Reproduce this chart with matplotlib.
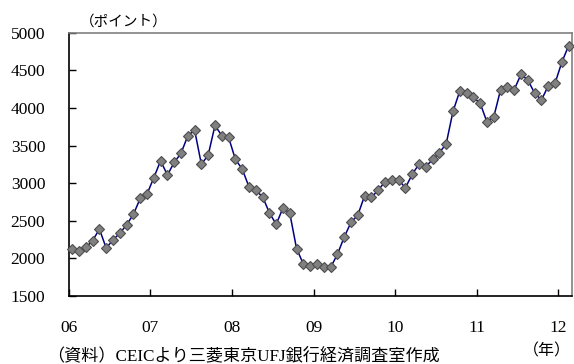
import matplotlib
matplotlib.use("Agg")
import matplotlib.pyplot as plt
import numpy as np

# monthly index, Jan 2006 - Feb 2012 (points)
values = [
    2130, 2100, 2147, 2234, 2390, 2137, 2247, 2332, 2447, 2585, 2797, 2855,
    3072, 3298, 3108, 3276, 3396, 3630, 3706, 3250, 3374, 3768, 3630, 3608,
    3316, 3187, 2951, 2904, 2819, 2606, 2452, 2673, 2598, 2128, 1924, 1897,
    1920, 1888, 1880, 2053, 2283, 2479, 2575, 2832, 2811, 2908, 3018, 3041,
    3041, 2939, 3117, 3254, 3218, 3316, 3404, 3524, 3954, 4224, 4194, 4141,
    4061, 3812, 3883, 4242, 4274, 4242, 4447, 4371, 4198, 4105, 4291, 4327,
    4606, 4827,
]
year_labels = ["06", "07", "08", "09", "10", "11", "12"]
y_ticks = [1500, 2000, 2500, 3000, 3500, 4000, 4500, 5000]

serif = ["Liberation Serif", "Noto Sans CJK JP"]
plt.rcParams["font.family"] = serif

fig = plt.figure(figsize=(5.74, 3.64), dpi=100)
ax = fig.add_axes([68.8 / 574, 1 - 296 / 364, (572 - 68.8) / 574, (296 - 32.7) / 364])

x = np.arange(len(values)) + 0.5
ax.plot(x, values, color="#000080", lw=1.1, marker="D", markersize=5,
        markerfacecolor="#808080", markeredgecolor="#4d4d4d", markeredgewidth=0.8,
        clip_on=False, zorder=3)

ax.set_xlim(0, len(values))
ax.set_ylim(1500, 5000)
ax.set_xticks(np.arange(len(year_labels)) * 12)
ax.set_xticklabels(year_labels, fontsize=12.5)
ax.set_yticks(y_ticks)
ax.set_yticklabels([str(v) for v in y_ticks], fontsize=12.5)
ax.tick_params(axis="x", direction="in", length=5, width=1, pad=17, colors="black")
ax.tick_params(axis="y", direction="in", length=5, width=1, pad=17, colors="black")

for side in ["left", "bottom"]:
    ax.spines[side].set_color("black")
    ax.spines[side].set_linewidth(1.2)
for side in ["top", "right"]:
    ax.spines[side].set_color("#808080")
    ax.spines[side].set_linewidth(1.2)

fig.text(80 / 574, 1 - 22 / 364, "（ポイント）", fontsize=10.5, ha="left", va="center",
         family=serif)
fig.text(47 / 574, 1 - 356 / 364, "（資料）CEICより三菱東京UFJ銀行経済調査室作成",
         fontsize=12.3, ha="left", va="center", family=serif)
fig.text(547 / 574, 1 - 351 / 364, "（年）", fontsize=11.5, ha="center", va="center",
         family=serif)

fig.savefig("out.png", dpi=100)
